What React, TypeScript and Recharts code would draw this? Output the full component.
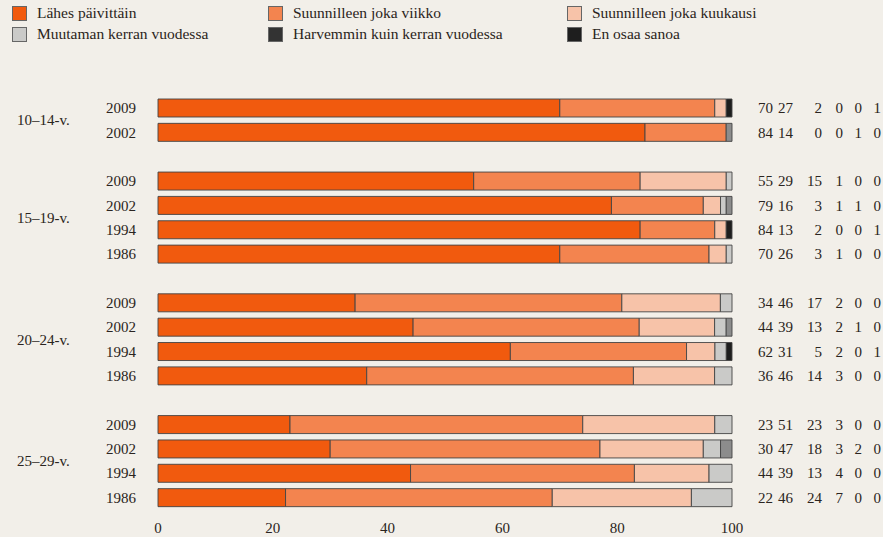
import React from 'react'
import { BarChart, Bar, XAxis, YAxis } from 'recharts'

const CATEGORIES = [
  'Lähes päivittäin',
  'Suunnilleen joka viikko',
  'Suunnilleen joka kuukausi',
  'Muutaman kerran vuodessa',
  'Harvemmin kuin kerran vuodessa',
  'En osaa sanoa',
]
const SERIES_KEYS = ['daily', 'weekly', 'monthly', 'yearly', 'rarely', 'dontknow']
const COLORS = ['#F15A0E', '#F3844F', '#F7C3A9', '#CACAC8', '#8C8C8C', '#1E1E1E']
const LEGEND_COLORS = ['#F15A0E', '#F3844F', '#F7C3A9', '#CACAC8', '#333333', '#1E1E1E']

const AGE_GROUPS = ['10–14-v.', '15–19-v.', '20–24-v.', '25–29-v.']
const GROUP_YEARS = [
  ['2009', '2002'],
  ['2009', '2002', '1994', '1986'],
  ['2009', '2002', '1994', '1986'],
  ['2009', '2002', '1994', '1986'],
]

// one value per row, rows in the order above
const daily = [70, 84, 55, 79, 84, 70, 34, 44, 62, 36, 23, 30, 44, 22]
const weekly = [27, 14, 29, 16, 13, 26, 46, 39, 31, 46, 51, 47, 39, 46]
const monthly = [2, 0, 15, 3, 2, 3, 17, 13, 5, 14, 23, 18, 13, 24]
const yearly = [0, 0, 1, 1, 0, 1, 2, 2, 2, 3, 3, 3, 4, 7]
const rarely = [0, 1, 0, 1, 0, 0, 0, 1, 0, 0, 0, 2, 0, 0]
const dontknow = [1, 0, 0, 0, 1, 0, 0, 0, 1, 0, 0, 0, 0, 0]

const X_TICKS = [0, 20, 40, 60, 80, 100]

const SERIES = [daily, weekly, monthly, yearly, rarely, dontknow]

type Row = {
  key: string
  year?: string
  group?: string
  groupPos?: number
  groupSize?: number
  values?: number[]
  [k: string]: any
}

const rows: Row[] = []
let n = 0
AGE_GROUPS.forEach((group, gi) => {
  if (gi > 0) {
    const gap: Row = { key: `gap${gi}` }
    SERIES_KEYS.forEach((k) => (gap[k] = 0))
    rows.push(gap)
  }
  GROUP_YEARS[gi].forEach((year, yi) => {
    const r: Row = {
      key: `${group}|${year}`,
      year,
      group,
      groupPos: yi,
      groupSize: GROUP_YEARS[gi].length,
      values: SERIES.map((s) => s[n]),
    }
    SERIES_KEYS.forEach((k, si) => (r[k] = SERIES[si][n]))
    rows.push(r)
    n++
  })
})

const W = 883
const H = 537
const TOP = 96
const BOTTOM = 27
const ROW_H = (H - TOP - BOTTOM) / rows.length
const FONT = '"Liberation Serif", "DejaVu Serif", serif'
const INK = '#2a2420'
const NUM_RIGHT = [773, 793, 822, 843, 862, 881]

const RowTick = (props: any) => {
  const { y, payload } = props
  const row = rows.find((r) => r.key === payload.value)
  if (!row || !row.year) return null
  const showGroup = row.groupPos === Math.max(0, row.groupSize! / 2 - 1)
  return (
    <g fontFamily={FONT} fontSize={15} fill={INK}>
      <text x={106} y={y} dy={5}>
        {row.year}
      </text>
      {showGroup && (
        <text x={17} y={y + ROW_H / 2} dy={5}>
          {row.group}
        </text>
      )}
      {row.values!.map((v, i) => (
        <text key={i} x={NUM_RIGHT[i]} y={y} dy={5} textAnchor="end">
          {v}
        </text>
      ))}
    </g>
  )
}

const LegendBlock = () => {
  const cols = [12, 268, 567]
  return (
    <div style={{ position: 'absolute', left: 0, top: 0, fontFamily: FONT, fontSize: 15.5, color: INK }}>
      {CATEGORIES.map((name, i) => (
        <div
          key={name}
          style={{
            position: 'absolute',
            left: cols[i % 3],
            top: i < 3 ? 4 : 25,
            display: 'flex',
            alignItems: 'center',
            whiteSpace: 'nowrap',
          }}
        >
          <span
            style={{
              width: 13,
              height: 13,
              background: LEGEND_COLORS[i],
              border: '1px solid #666',
              marginRight: 10,
              display: 'inline-block',
            }}
          />
          <span>{name}</span>
        </div>
      ))}
    </div>
  )
}

export default function App() {
  return (
    <div style={{ position: 'absolute', left: 0, top: 0, width: W, height: H, background: '#F2EFE9' }}>
      <LegendBlock />
      <BarChart
        width={W}
        height={H}
        data={rows}
        layout="vertical"
        stackOffset="expand"
        barSize={18}
        margin={{ top: TOP, right: 151, bottom: 0, left: 0 }}
      >
        <XAxis
          type="number"
          domain={[0, 1]}
          ticks={X_TICKS.map((t) => t / 100)}
          tickFormatter={(v: number) => String(Math.round(v * 100))}
          axisLine={false}
          tickLine={false}
          height={BOTTOM}
          tickMargin={6}
          tick={{ fontFamily: FONT, fontSize: 15, fill: INK }}
        />
        <YAxis
          type="category"
          dataKey="key"
          width={158}
          axisLine={false}
          tickLine={false}
          interval={0}
          tick={<RowTick />}
        />
        {SERIES_KEYS.map((k, i) => (
          <Bar
            key={k}
            dataKey={k}
            name={CATEGORIES[i]}
            stackId="a"
            fill={COLORS[i]}
            stroke="#444"
            strokeWidth={0.9}
            isAnimationActive={false}
          />
        ))}
      </BarChart>
    </div>
  )
}
